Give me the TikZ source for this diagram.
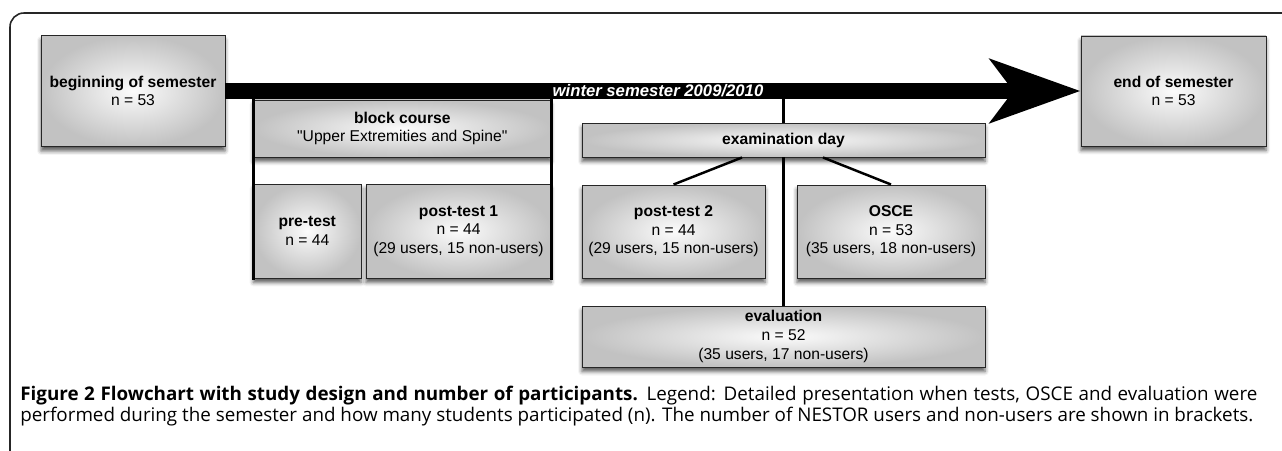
\documentclass[tikz,border=0pt]{standalone}
\usepackage{fontspec}
\setmainfont{Liberation Sans}[Ligatures=TeXOff]
\newfontfamily\capfont{Open Sans}
\usetikzlibrary{arrows.meta,shadows.blur}
\newcommand\BarY{7.18}
\tikzset{
  box/.style={
    shape = rectangle,
    draw = black!85,
    line width = 0.55pt,
    inner sep = 0pt,
    align = center,
    inner color = gray!3,
    outer color = gray!48,
    blur shadow = {shadow xshift=0pt, shadow yshift=-0.09cm, shadow blur radius=0.08cm, shadow opacity=65},
    font = \fontsize{8.9}{10.6}\selectfont
  },
  side/.style={
    line width = 1.7pt,
    line cap = rect
  },
  link/.style={
    line width = 1.4pt
  },
  timebar/.style={
    line width = 0.32cm,
    -{Stealth[length=1.8cm, width=1.26cm, inset=0.46cm]}
  },
  figframe/.style={
    line width = 0.9pt,
    draw = black!85,
    rounded corners = 0.28cm
  }
}

\begin{document}
\begin{tikzpicture}
        \useasboundingbox (0,0) rectangle (25.64,9);
        \draw[figframe] (0.2,-0.5) -- (0.2,8.74) -- (26.5,8.74);

        \node[box, minimum width=3.68cm, minimum height=2.22cm] (begin) at (2.66,\BarY) {\textbf{beginning of semester}\\n = 53};
        \node[box, minimum width=3.70cm, minimum height=2.20cm] (end) at (23.47,\BarY) {\textbf{end of semester}\\n = 53};

        \node[box, minimum width=5.95cm, minimum height=1.14cm] (block) at (8.045,6.43) {\textbf{block course}\\"Upper Extremities and Spine"};
        \node[box, minimum width=2.15cm, minimum height=1.88cm] (pre) at (6.145,4.38) {\textbf{pre-test}\\n = 44};
        \node[box, minimum width=3.70cm, minimum height=1.88cm] (post1) at (9.17,4.38) {\textbf{post-test 1}\\n = 44\\(29 users, 15 non-users)};

        \node[box, minimum width=8.06cm, minimum height=0.68cm] (exam) at (15.67,6.2) {\textbf{examination day}};
        \node[box, minimum width=3.66cm, minimum height=1.86cm] (post2) at (13.47,4.37) {\textbf{post-test 2}\\n = 44\\(29 users, 15 non-users)};
        \node[box, minimum width=3.76cm, minimum height=1.86cm] (osce) at (17.82,4.37) {\textbf{OSCE}\\n = 53\\(35 users, 18 non-users)};
        \node[box, minimum width=8.06cm, minimum height=1.22cm] (eval) at (15.67,2.27) {\textbf{evaluation}\\n = 52\\(35 users, 17 non-users)};

        % block course frame and examination day links
        \draw[side] (pre.south west) -- (pre.south west |- begin.east);
        \draw[side] (post1.south east) -- (post1.south east |- begin.east);
        \draw[link] (exam.north |- begin.east) -- (exam.north);
        \draw[link] (exam.south) -- (eval.north);
        \draw[link] ([xshift=-0.83cm]exam.south) -- (post2.north);
        \draw[link] ([xshift=0.79cm]exam.south) -- (osce.north);

        \draw[timebar] (begin.east) -- (end.west);
        \node[text=white, inner sep=0pt, font=\bfseries\itshape\fontsize{9.5}{11}\selectfont] (winter) at (13.16,\BarY) {winter semester 2009/2010};

        \node[anchor=north west, inner sep=0pt, text width=24.74cm, align=justify, font=\capfont\fontsize{10.7}{11.95}\selectfont] (caption) at (0.4,1.29) {\parfillskip=0pt\textbf{Figure 2 Flowchart with study design and number of participants.} Legend: Detailed presentation when tests, OSCE and evaluation were\linebreak performed during the semester and how many students participated (n). The number of NESTOR users and non-users are shown in brackets.};
\end{tikzpicture}
\end{document}
